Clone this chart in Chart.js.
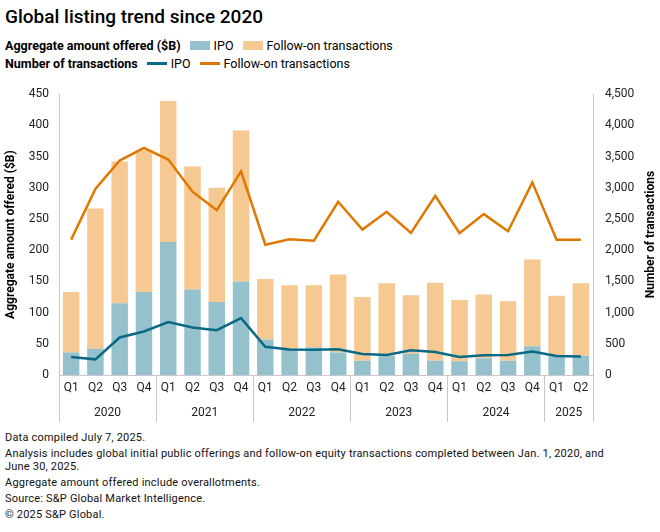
<!DOCTYPE html>
<html>
<head>
<meta charset="utf-8">
<script src="https://cdn.jsdelivr.net/npm/chart.js@4.4.1/dist/chart.umd.min.js"></script>
<style>
body { margin: 0; width: 660px; height: 532px; background: #fff; font-family: Roboto, sans-serif; color: #000; position: relative; overflow: hidden; }
#title { position: absolute; left: 5px; top: 5px; font-size: 19px; font-weight: 500; }
.leg { position: absolute; left: 5px; font-size: 12.5px; display: flex; align-items: center; white-space: nowrap; }
.leg b { margin-right: 9px; }
.sw { display: inline-block; width: 20px; margin-right: 4px; }
.leg span.t { margin-right: 9px; }
#wrap { position: absolute; left: 0; top: 75px; width: 660px; height: 352px; }
#notes { position: absolute; left: 5px; top: 431px; font-size: 11px; line-height: 13px; color: #111; letter-spacing: 0.2px; }
#notes p { margin: 0 0 3px 0; }
</style>
</head>
<body>
<div id="title">Global listing trend since 2020</div>
<div class="leg" id="leg1" style="top:38px"></div>
<div class="leg" id="leg2" style="top:56px"></div>
<div id="wrap"><canvas id="chart"></canvas></div>
<div id="notes">
<p>Data compiled July 7, 2025.</p>
<p>Analysis includes global initial public offerings and follow-on equity transactions completed between Jan. 1, 2020, and<br>June 30, 2025.</p>
<p>Aggregate amount offered include overallotments.</p>
<p>Source: S&amp;P Global Market Intelligence.</p>
<p>&copy; 2025 S&amp;P Global.</p>
</div>
<script>
var quarters = ["Q1","Q2","Q3","Q4","Q1","Q2","Q3","Q4","Q1","Q2","Q3","Q4","Q1","Q2","Q3","Q4","Q1","Q2","Q3","Q4","Q1","Q2"];
var years = ["2020","2021","2022","2023","2024","2025"];
var quartersPerYear = [4,4,4,4,4,2];

// $B
var ipoAmount = [36,42,115,133,213,137,117,150,57,42,44,36,23,31,34,23,22,27,23,46,30,31];
var followOnAmount = [97,225,227,227,226,197,183,242,97,102,100,125,102,116,94,125,98,102,95,139,97,116];
// number of transactions
var ipoCount = [290,251,601,698,848,762,719,912,451,408,403,413,338,322,397,370,290,316,322,375,306,295];
var followOnCount = [2170,2980,3437,3641,3452,2937,2642,3264,2088,2175,2152,2776,2330,2615,2277,2872,2271,2578,2304,3087,2168,2168];

var IPO_BAR = "#95c1cd", FO_BAR = "#f6c892", IPO_LINE = "#0a6a85", FO_LINE = "#e07800";
var tickFont = { family: "Roboto", size: 12 };

function legend(el, label, items){
    var box = document.getElementById(el);
    var html = "<b>" + label + "</b>";
    items.forEach(function(it){
        var h = it.line ? 3 : 9;
        html += '<span class="sw" style="height:' + h + 'px;background:' + it.color + '"></span><span class="t">' + it.text + '</span>';
    });
    box.innerHTML = html;
}
legend("leg1", "Aggregate amount offered ($B)", [{color: IPO_BAR, text: "IPO"}, {color: FO_BAR, text: "Follow-on transactions"}]);
legend("leg2", "Number of transactions", [{color: IPO_LINE, text: "IPO", line: true}, {color: FO_LINE, text: "Follow-on transactions", line: true}]);

// year row under the quarter ticks, plus the group separators
var yearGroups = {
    id: "yearGroups",
    afterDraw: function(chart){
        var x = chart.scales.x, ctx = chart.ctx;
        var half = (x.getPixelForValue(1) - x.getPixelForValue(0)) / 2;
        var start = 0;
        ctx.save();
        ctx.strokeStyle = "#c8c8c8";
        ctx.lineWidth = 1;
        ctx.fillStyle = "#222";
        ctx.font = "12px Roboto";
        ctx.textAlign = "center";
        ctx.textBaseline = "middle";
        var edges = [x.getPixelForValue(0) - half];
        years.forEach(function(yr, i){
            var end = start + quartersPerYear[i] - 1;
            var l = x.getPixelForValue(start) - half, r = x.getPixelForValue(end) + half;
            edges.push(r);
            ctx.fillText(yr, (l + r) / 2, x.top + 38);
            start = end + 1;
        });
        edges.forEach(function(px){
            ctx.beginPath();
            ctx.moveTo(Math.round(px) + 0.5, x.top);
            ctx.lineTo(Math.round(px) + 0.5, x.top + 47);
            ctx.stroke();
        });

        // right axis title reads bottom-to-top like the left one
        var r = chart.scales.y1;
        ctx.translate(r.right - 9, (r.top + r.bottom) / 2);
        ctx.rotate(-Math.PI / 2);
        ctx.fillStyle = "#000";
        ctx.font = "bold 12px Roboto";
        ctx.fillText("Number of transactions", 0, 0);
        ctx.restore();
    }
};

new Chart(document.getElementById("chart"), {
    data: {
        labels: quarters,
        datasets: [
            { type: "line", label: "IPO count", data: ipoCount, yAxisID: "y1", borderColor: IPO_LINE, borderWidth: 2.5, pointRadius: 0, tension: 0, order: 1 },
            { type: "line", label: "Follow-on count", data: followOnCount, yAxisID: "y1", borderColor: FO_LINE, borderWidth: 2.5, pointRadius: 0, tension: 0, order: 1 },
            { type: "bar", label: "IPO", data: ipoAmount, yAxisID: "y", backgroundColor: IPO_BAR, barPercentage: 0.68, categoryPercentage: 1, order: 2 },
            { type: "bar", label: "Follow-on transactions", data: followOnAmount, yAxisID: "y", backgroundColor: FO_BAR, barPercentage: 0.68, categoryPercentage: 1, order: 2 }
        ]
    },
    options: {
        responsive: true,
        maintainAspectRatio: false,
        animation: false,
        layout: { padding: { top: 8, left: 0, right: 0, bottom: 0 } },
        plugins: { legend: { display: false }, tooltip: { enabled: false } },
        scales: {
            x: {
                stacked: true,
                grid: { display: false, drawTicks: false },
                border: { color: "#c8c8c8" },
                ticks: { font: tickFont, color: "#222", padding: 6, maxRotation: 0, autoSkip: false },
                afterFit: function(s){ s.height = 52; }
            },
            y: {
                stacked: true,
                position: "left",
                min: 0, max: 450,
                grid: { display: false, drawTicks: false },
                border: { color: "#c8c8c8" },
                ticks: { stepSize: 50, font: tickFont, color: "#222", padding: 10 },
                title: { display: true, text: "Aggregate amount offered ($B)", font: { family: "Roboto", size: 12, weight: "bold" }, color: "#000", padding: { top: 4, bottom: 0 } },
                afterFit: function(s){ s.width = 59; }
            },
            y1: {
                position: "right",
                min: 0, max: 4500,
                grid: { display: false, drawTicks: false },
                border: { color: "#c8c8c8" },
                ticks: { stepSize: 500, font: tickFont, color: "#222", padding: 12,
                    callback: function(v){ return v.toLocaleString("en-US"); } },
                afterFit: function(s){ s.width = 67; }
            }
        }
    },
    plugins: [yearGroups]
});
</script>
</body>
</html>
